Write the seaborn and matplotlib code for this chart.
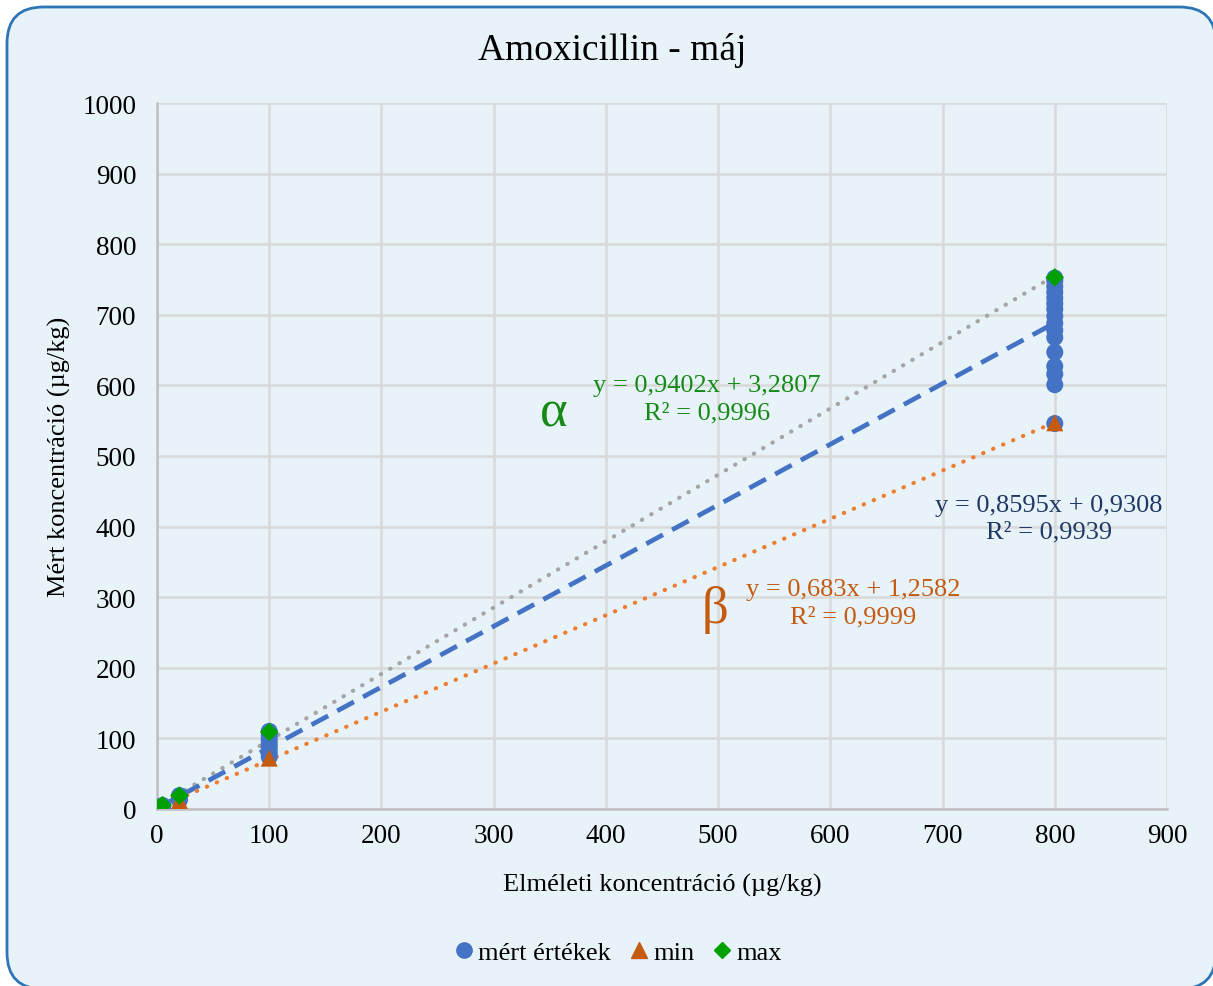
import numpy as np
import pandas as pd
import matplotlib
matplotlib.use("Agg")
import matplotlib.pyplot as plt
from matplotlib.patches import FancyBboxPatch
from matplotlib.lines import Line2D
import seaborn as sns

# ---- data ----
meas_x = [1, 1, 5, 5, 5, 20, 20, 20, 20,
          100, 100, 100, 100, 100, 100, 100,
          800, 800, 800, 800, 800, 800, 800, 800, 800, 800, 800, 800, 800, 800, 800, 800]
meas_y = [0.5, 1.2, 3, 4, 5, 13, 15, 17, 19,
          74, 80, 86, 92, 98, 104, 110,
          546, 601, 616, 627, 647, 668, 678, 688, 698, 708, 716, 724, 732, 740, 748, 752]
lvl_x = [1, 5, 20, 100, 800]
min_y = [0.5, 3, 12, 72, 547]
max_y = [1.5, 5.5, 19, 109, 753]

# trend lines (slope, intercept, R2) as printed on the chart
trend_max = (0.9402, 3.2807, 0.9996)
trend_all = (0.8595, 0.9308, 0.9939)
trend_min = (0.683, 1.2582, 0.9999)

title = "Amoxicillin - máj"
xlabel = "Elméleti koncentráció (µg/kg)"
ylabel = "Mért koncentráció (µg/kg)"
series_names = ["mért értékek", "min", "max"]

# ---- style ----
BG = "#E8F3F9"
BLUE = "#4472C4"
ORANGE_LINE = "#ED7D31"
ORANGE_MK = "#C55A11"
GREEN = "#00A000"
GREEN_TXT = "#168A16"
GRAY = "#A5A5A5"
NAVY = "#1F3864"

sns.set_theme(style="whitegrid")
plt.rcParams["font.family"] = ["Liberation Serif", "DejaVu Serif"]
plt.rcParams["text.color"] = "black"
plt.rcParams["axes.labelcolor"] = "black"

W, H = 1213, 987
fig = plt.figure(figsize=(W / 100, H / 100), dpi=100)
fig.patch.set_facecolor("white")
box = FancyBboxPatch((7 / W, 1 - 990 / H), (1216 - 7) / W, (990 - 8) / H,
                     boxstyle="round,pad=0,rounding_size=0.03",
                     transform=fig.transFigure, facecolor=BG, edgecolor="#2E75B6",
                     linewidth=2, zorder=-10, mutation_aspect=W / H)
fig.patches.append(box)

ax = fig.add_axes([157 / W, 1 - 810 / H, (1167 - 157) / W, (810 - 104) / H])
ax.set_facecolor("none")

df_meas = pd.DataFrame({"x": meas_x, "y": meas_y})
df_min = pd.DataFrame({"x": lvl_x, "y": min_y})
df_max = pd.DataFrame({"x": lvl_x, "y": max_y})

# trend lines
xs = np.array([0, 800])
for (m, b, _), col, ls, lw, cap in [
    (trend_max, GRAY, (0, (0.1, 2.5)), 3.0, "round"),
    (trend_all, BLUE, (0, (4.0, 2.2)), 3.4, "butt"),
    (trend_min, ORANGE_LINE, (0, (0.1, 2.5)), 3.0, "round"),
]:
    ax.plot(xs, m * xs + b, color=col, linestyle=ls, linewidth=lw,
            dash_capstyle=cap, zorder=2)

sns.scatterplot(data=df_meas, x="x", y="y", ax=ax, color=BLUE, marker="o",
                s=150, edgecolor="none", zorder=3, legend=False)
sns.scatterplot(data=df_min, x="x", y="y", ax=ax, color=ORANGE_MK, marker="^",
                s=150, edgecolor="none", zorder=4, legend=False)
sns.scatterplot(data=df_max, x="x", y="y", ax=ax, color=GREEN, marker="D",
                s=90, edgecolor="none", zorder=5, legend=False)

ax.set_xlim(0, 900)
ax.set_ylim(0, 1000)
ax.set_xticks(np.arange(0, 901, 100))
ax.set_yticks(np.arange(0, 1001, 100))
ax.grid(True, color="#D9D9D9", linewidth=1.8)
for s in ["top", "right"]:
    ax.spines[s].set_visible(False)
for s in ["left", "bottom"]:
    ax.spines[s].set_color("#BFBFBF")
    ax.spines[s].set_linewidth(1.8)
ax.tick_params(axis="both", length=0, labelsize=19.5, colors="black")
ax.tick_params(axis="y", pad=15)
ax.tick_params(axis="x", pad=10)
ax.set_xlabel(xlabel, fontsize=19, labelpad=18, color="black")
ax.set_ylabel(ylabel, fontsize=19, labelpad=8, color="black")

fig.text(0.505, 1 - 50 / H, title, ha="center", va="center", fontsize=27,
         color="black")

def fmt(v):
    return str(v).replace(".", ",")

eqs = [
    (trend_max, 490, 581, GREEN_TXT),
    (trend_min, 620, 292, ORANGE_MK),
    (trend_all, 795, 412, NAVY),
]
for (m, b, r2), x, y, col in eqs:
    ax.text(x, y, f"y = {fmt(m)}x + {fmt(b)}\nR² = {fmt(r2)}", ha="center",
            va="center", multialignment="center", fontsize=19, color=col,
            linespacing=1.3)

ax.text(354, 562, "α", ha="center", va="center", fontsize=38, color=GREEN_TXT)
ax.text(497, 283, "β", ha="center", va="center", fontsize=38, color=ORANGE_MK)

handles = [
    Line2D([], [], linestyle="none", marker="o", markersize=11, color=BLUE),
    Line2D([], [], linestyle="none", marker="^", markersize=11, color=ORANGE_MK),
    Line2D([], [], linestyle="none", marker="D", markersize=8, color=GREEN),
]
fig.legend(handles, series_names, loc="center", bbox_to_anchor=(0.508, 1 - 953 / H),
           ncol=3, frameon=False, fontsize=19, handletextpad=0.05,
           columnspacing=0.55, handlelength=1.0, labelcolor="black")

fig.savefig("out.png", dpi=100, facecolor="white")
